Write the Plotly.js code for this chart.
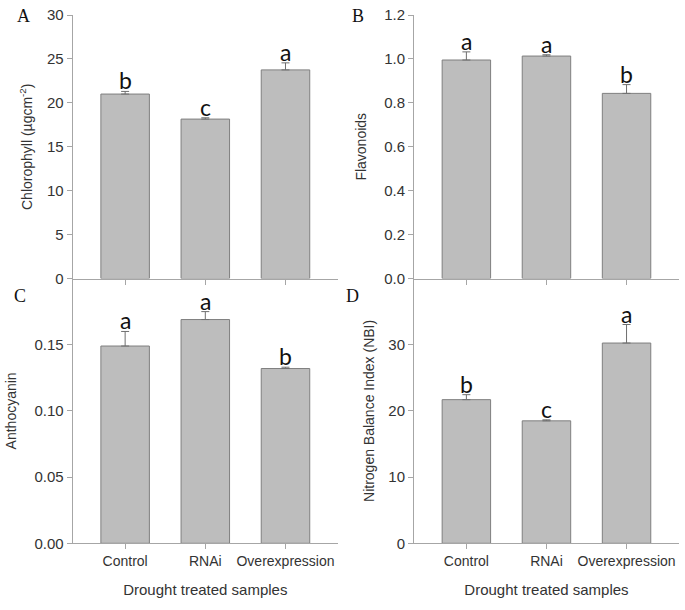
<!DOCTYPE html>
<html>
<head>
<meta charset="utf-8">
<script src="https://cdn.plot.ly/plotly-3.0.1.min.js"></script>
<style>
  html, body { margin: 0; padding: 0; background: #fff; }
  #chart { width: 685px; height: 610px; }
</style>
</head>
<body>
<div id="chart"></div>
<script>
// ---- data ----
const categories = ["Control", "RNAi", "Overexpression"];

const chlorophyll = [21.0, 18.15, 23.75];
const chlorophyllErr = [0.3, 0.15, 0.8];
const chlorophyllLetters = ["b", "c", "a"];

const flavonoids = [0.995, 1.013, 0.843];
const flavonoidsErr = [0.037, 0.006, 0.04];
const flavonoidsLetters = ["a", "a", "b"];

const anthocyanin = [0.149, 0.169, 0.132];
const anthocyaninErr = [0.011, 0.006, 0.001];
const anthocyaninLetters = ["a", "a", "b"];

const nbi = [21.7, 18.5, 30.25];
const nbiErr = [0.75, 0.15, 2.8];
const nbiLetters = ["b", "c", "a"];

const chlorophyllTicks = [0, 5, 10, 15, 20, 25, 30];
const flavonoidsTicks = [0, 0.2, 0.4, 0.6, 0.8, 1.0, 1.2];
const anthocyaninTicks = [0, 0.05, 0.10, 0.15];
const nbiTicks = [0, 10, 20, 30];

// ---- styles ----
const barFill = "#bdbdbd";
const barLine = "#7f7f7f";
const errColor = "#6f6f6f";
const axisColor = "#a6a6a6";
const textColor = "#333333";
const sans = "Liberation Sans";

function barTrace(vals, errs, xa, ya) {
  return {
    type: "bar",
    x: categories,
    y: vals,
    xaxis: xa,
    yaxis: ya,
    width: 0.605,
    marker: { color: barFill, line: { color: barLine, width: 1 } },
    error_y: {
      type: "data",
      symmetric: false,
      array: errs,
      arrayminus: errs.map(() => 0),
      color: errColor,
      thickness: 1,
      width: 4
    },
    showlegend: false,
    hoverinfo: "x+y"
  };
}

const data = [
  barTrace(chlorophyll, chlorophyllErr, "x", "y"),
  barTrace(flavonoids, flavonoidsErr, "x2", "y2"),
  barTrace(anthocyanin, anthocyaninErr, "x3", "y3"),
  barTrace(nbi, nbiErr, "x4", "y4")
];

const colL = [72.7 / 685, 338 / 685];
const colR = [414 / 685, 679 / 685];
const rowT = [1 - 278.5 / 610, 1 - 15 / 610];
const rowB = [1 - 543.3 / 610, 1 - 278.5 / 610];

function xAxis(domain, anchor, showLabels, title) {
  const ax = {
    domain: domain,
    anchor: anchor,
    type: "category",
    range: [-0.654, 2.655],
    showline: true,
    linecolor: axisColor,
    linewidth: 1,
    ticks: "outside",
    ticklen: 5,
    tickcolor: axisColor,
    showgrid: false,
    zeroline: false,
    showticklabels: showLabels,
    tickfont: { family: sans, size: 14, color: textColor },
    fixedrange: true
  };
  if (title) {
    ax.title = { text: title, font: { family: sans, size: 15, color: textColor }, standoff: 16 };
  }
  return ax;
}

function yAxis(domain, anchor, range, tickvals, fmt, title, standoff) {
  return {
    domain: domain,
    anchor: anchor,
    range: range,
    tickmode: "array",
    tickvals: tickvals,
    tickformat: fmt,
    showline: true,
    linecolor: axisColor,
    linewidth: 1,
    ticks: "outside",
    ticklen: 5,
    tickcolor: axisColor,
    showgrid: false,
    zeroline: false,
    tickfont: { family: sans, size: 15, color: textColor },
    title: { text: title, font: { family: sans, size: 14, color: textColor }, standoff: standoff },
    fixedrange: true
  };
}

function letterAnnotations(vals, errs, letters, xref, yref) {
  return letters.map((t, i) => ({
    x: categories[i],
    y: vals[i] + errs[i],
    xref: xref,
    yref: yref,
    text: t,
    showarrow: false,
    yanchor: "bottom",
    yshift: -5,
    font: { family: "Lato", size: 23, color: "#111" }
  }));
}

function panelLetter(t, x, y) {
  return {
    text: t, x: x / 685, y: 1 - y / 610, xref: "paper", yref: "paper",
    xanchor: "center", yanchor: "middle", showarrow: false,
    font: { family: "Liberation Serif", size: 18, color: "#111" }
  };
}

const layout = {
  width: 685,
  height: 610,
  margin: { l: 0, r: 0, t: 0, b: 0 },
  paper_bgcolor: "#ffffff",
  plot_bgcolor: "#ffffff",
  showlegend: false,
  bargap: 0.4,
  xaxis: xAxis(colL, "y", false, null),
  yaxis: yAxis(rowT, "x", [0, 30], chlorophyllTicks, "d", "Chlorophyll (µgcm<sup>-2</sup>)", 11),
  xaxis2: xAxis(colR, "y2", false, null),
  yaxis2: yAxis(rowT, "x2", [0, 1.2], flavonoidsTicks, ".1f", "Flavonoids", 14),
  xaxis3: xAxis(colL, "y3", true, "Drought treated samples"),
  yaxis3: yAxis(rowB, "x3", [0, 0.2], anthocyaninTicks, ".2f", "Anthocyanin", 14),
  xaxis4: xAxis(colR, "y4", true, "Drought treated samples"),
  yaxis4: yAxis(rowB, "x4", [0, 40], nbiTicks, "d", "Nitrogen Balance Index (NBI)", 10),
  annotations: []
    .concat(letterAnnotations(chlorophyll, chlorophyllErr, chlorophyllLetters, "x", "y"))
    .concat(letterAnnotations(flavonoids, flavonoidsErr, flavonoidsLetters, "x2", "y2"))
    .concat(letterAnnotations(anthocyanin, anthocyaninErr, anthocyaninLetters, "x3", "y3"))
    .concat(letterAnnotations(nbi, nbiErr, nbiLetters, "x4", "y4"))
    .concat([
      panelLetter("A", 23.5, 15.5),
      panelLetter("B", 358, 15.5),
      panelLetter("C", 19.5, 296),
      panelLetter("D", 352.5, 296)
    ])
};

Plotly.newPlot("chart", data, layout, { displayModeBar: false, staticPlot: true });
</script>
</body>
</html>
